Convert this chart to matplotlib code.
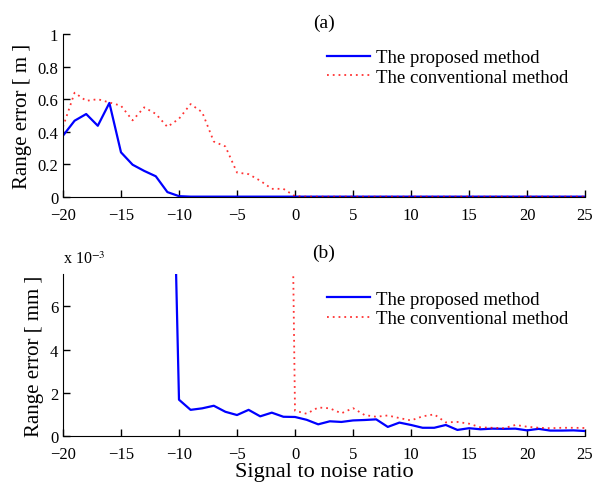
import matplotlib
matplotlib.use("Agg")
import matplotlib.pyplot as plt
from matplotlib.ticker import FuncFormatter

plt.rcParams['font.family'] = ['Liberation Serif', 'DejaVu Serif']
plt.rcParams['mathtext.fontset'] = 'stix'

# (a) range error in m, SNR -20..25 dB
snr = list(range(-20, 26))
prop_a = [0.376, 0.468, 0.509, 0.437, 0.577, 0.274, 0.198, 0.16, 0.127, 0.03,
          0.005] + [0.002] * 35
conv_a = [0.43, 0.64, 0.59, 0.60, 0.58, 0.56, 0.47, 0.55, 0.51, 0.43,
          0.48, 0.57, 0.52, 0.34, 0.31, 0.15, 0.14, 0.10, 0.05, 0.05,
          0.005] + [0.002] * 25

# (b) range error in mm (zoomed), SNR -11..25 for proposed, -1..25 for conventional
snr_b_prop = list(range(-11, 26))
prop_b = [0.025, 1.68e-3, 1.21e-3, 1.28e-3, 1.40e-3, 1.12e-3, 0.97e-3, 1.21e-3,
          0.91e-3, 1.08e-3, 0.89e-3, 0.88e-3, 0.75e-3, 0.54e-3, 0.68e-3,
          0.65e-3, 0.72e-3, 0.74e-3, 0.77e-3, 0.42e-3, 0.62e-3, 0.51e-3,
          0.38e-3, 0.38e-3, 0.51e-3, 0.28e-3, 0.36e-3, 0.31e-3, 0.34e-3,
          0.33e-3, 0.34e-3, 0.26e-3, 0.33e-3, 0.25e-3, 0.25e-3, 0.26e-3,
          0.23e-3]
snr_b_conv = list(range(-1, 26))
conv_b = [0.043, 1.17e-3, 1.03e-3, 1.32e-3, 1.28e-3, 1.05e-3, 1.29e-3, 0.97e-3,
          0.89e-3, 0.95e-3, 0.83e-3, 0.72e-3, 0.91e-3, 1.0e-3, 0.63e-3,
          0.65e-3, 0.57e-3, 0.40e-3, 0.38e-3, 0.36e-3, 0.51e-3, 0.43e-3,
          0.38e-3, 0.36e-3, 0.38e-3, 0.38e-3, 0.37e-3]

xticks = list(range(-20, 26, 5))
fig = plt.figure(figsize=(5.92, 4.85), dpi=100)
ax1 = fig.add_axes([0.1064, 0.5918, 0.8818, 0.336])
ax2 = fig.add_axes([0.1064, 0.099, 0.8818, 0.334])

def style(ax):
    for s in ['top', 'right']:
        ax.spines[s].set_visible(False)
    ax.tick_params(direction='in', labelsize=12, length=5, width=1)
    ax.tick_params(axis='x', pad=7)
    ax.set_xlim(-20, 25)
    ax.set_xticks(xticks)
    ax.set_xticklabels([str(t).replace('-', '\u2212') for t in xticks])

blue = '#0000ff'
red = '#ff0000'

ax1.plot(snr, prop_a, color=blue, lw=1.6, label='The proposed method')
ax1.plot(snr, conv_a, color=red, lw=1.3, ls=(0, (1, 2.2)), alpha=0.8,
         label='The conventional method')
style(ax1)
ax1.set_ylim(0, 1)
ax1.set_yticks([0, 0.2, 0.4, 0.6, 0.8, 1])
ax1.set_yticklabels(['0', '0.2', '0.4', '0.6', '0.8', '1'])
ax1.set_ylabel('Range error [ m ]', fontsize=15)
ax1.set_title('(a)', fontsize=14, pad=5)
ax1.legend(loc='upper right', bbox_to_anchor=(1.0, 1.01), frameon=False,
           fontsize=13.5, handlelength=2.3, handletextpad=0.3, labelspacing=0.12)

ax2.plot(snr_b_prop, prop_b, color=blue, lw=1.6, label='The proposed method')
ax2.plot(snr_b_conv, conv_b, color=red, lw=1.3, ls=(0, (1, 2.2)), alpha=0.8,
         label='The conventional method')
style(ax2)
ax2.set_ylim(0, 7.5e-3)
ax2.set_yticks([0, 2e-3, 4e-3, 6e-3])
ax2.yaxis.set_major_formatter(FuncFormatter(lambda v, p: '%g' % round(v * 1e3, 3)))
ax2.text(0.0, 1.045, r'x 10$^{-3}$', transform=ax2.transAxes, fontsize=11.5,
         ha='left', va='bottom')
ax2.set_ylabel('Range error [ mm ]', fontsize=15)
ax2.set_xlabel('Signal to noise ratio', fontsize=16, labelpad=0)
ax2.set_title('(b)', fontsize=14, pad=12)
ax2.legend(loc='upper right', bbox_to_anchor=(1.0, 1.0), frameon=False,
           fontsize=13.5, handlelength=2.3, handletextpad=0.3, labelspacing=0.12)

fig.savefig('out.png', dpi=100)
